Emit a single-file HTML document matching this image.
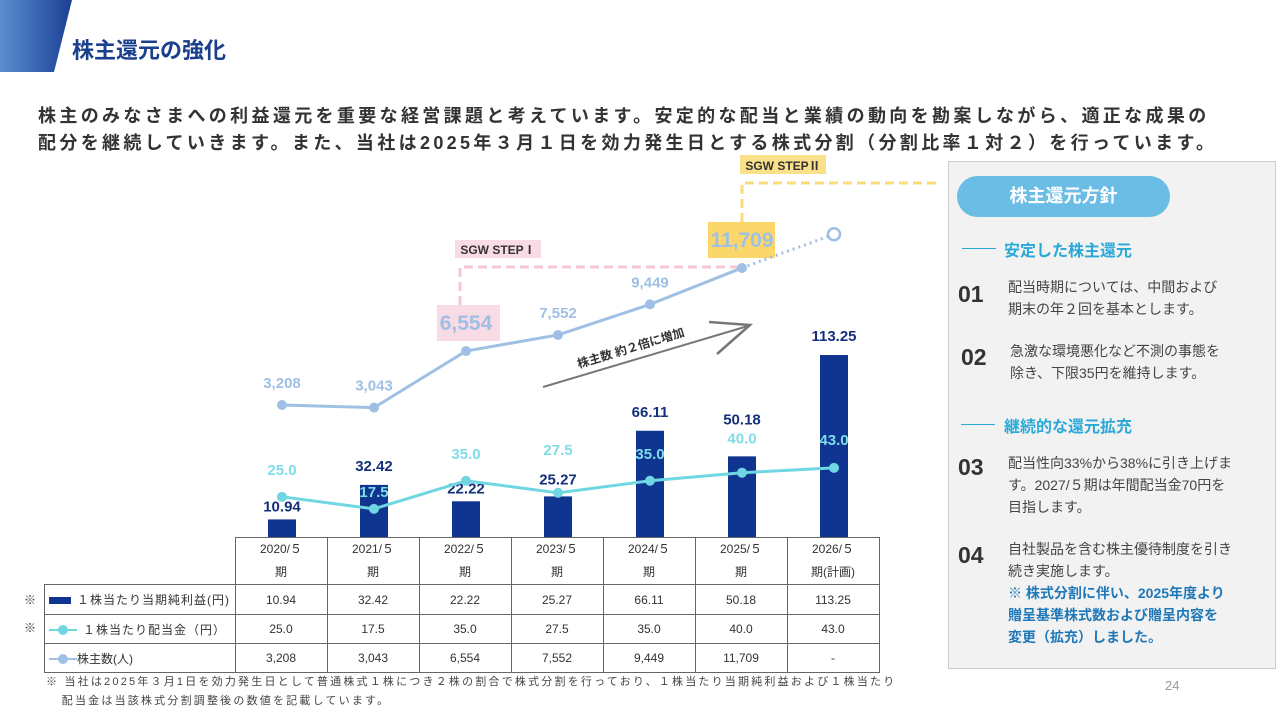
<!DOCTYPE html>
<html lang="ja"><head><meta charset="utf-8">
<style>
body{margin:0;width:1280px;height:720px;overflow:hidden;background:#fff;font-family:"Liberation Sans","Noto Sans CJK JP",sans-serif;position:relative}
.abs{position:absolute}
table.dt{position:absolute;left:44px;top:537px;border-collapse:collapse;font-size:12px;color:#333}
table.dt td{border:1px solid #666;text-align:center;padding:0;height:28px}
.panel{left:948px;top:161px;width:326px;height:506px;background:#f2f2f2;border:1px solid #ccc}
.num{font-size:23px;font-weight:bold;color:#333}
.ptxt{font-size:14px;color:#444;line-height:22px}
.head{font-size:16px;font-weight:bold;color:#2aa8d8}
.hline{width:34px;height:1px;background:#2aa8d8}
</style></head><body>
<svg class="abs" style="left:0;top:0" width="80" height="75">
<defs><linearGradient id="g" x1="0" x2="1"><stop offset="0" stop-color="#5b8fd0"/><stop offset="1" stop-color="#1b3f94"/></linearGradient></defs>
<polygon points="0,0 72,0 54,72 0,72" fill="url(#g)"/></svg>
<div class="abs" style="left:72px;top:33px;font-size:22px;font-weight:bold;color:#1a3f8c">株主還元の強化</div>
<div class="abs" style="left:38px;top:103px;font-size:18px;font-weight:bold;color:#333;line-height:27px;white-space:nowrap;letter-spacing:3.35px">株主のみなさまへの利益還元を重要な経営課題と考えています。安定的な配当と業績の動向を勘案しながら、適正な成果の<br>配分を継続していきます。また、当社は2025年３月１日を効力発生日とする株式分割（分割比率１対２）を行っています。</div>

<svg id="chart" class="abs" style="left:0;top:0" width="940" height="540"></svg>

<table class="dt">
<tr style="height:47px"><td style="border:none;border-bottom:1px solid #666;width:190px"></td>
<td style="width:91px;line-height:23px">2020/５<br>期</td><td style="width:91px;line-height:23px">2021/５<br>期</td><td style="width:91px;line-height:23px">2022/５<br>期</td><td style="width:91px;line-height:23px">2023/５<br>期</td><td style="width:91px;line-height:23px">2024/５<br>期</td><td style="width:91px;line-height:23px">2025/５<br>期</td><td style="width:91px;line-height:23px">2026/５<br>期(計画)</td></tr>
<tr style="height:30px"><td style="text-align:left;padding-left:4px;letter-spacing:1px"><span style="display:inline-block;width:22px;height:7px;background:#0f3590;margin-right:6px;vertical-align:middle"></span>１株当たり当期純利益(円)</td><td>10.94</td><td>32.42</td><td>22.22</td><td>25.27</td><td>66.11</td><td>50.18</td><td>113.25</td></tr>
<tr style="height:27px"><td style="text-align:left;padding-left:4px;letter-spacing:1px"><span style="display:inline-block;width:28px;height:2px;background:#6fd6e2;margin-right:6px;vertical-align:middle;position:relative"><span style="position:absolute;left:9px;top:-4px;width:10px;height:10px;border-radius:50%;background:#6fd6e2"></span></span>１株当たり配当金（円）</td><td>25.0</td><td>17.5</td><td>35.0</td><td>27.5</td><td>35.0</td><td>40.0</td><td>43.0</td></tr>
<tr style="height:27px"><td style="text-align:left;padding-left:4px"><span style="display:inline-block;width:28px;height:2px;background:#9fc0e4;vertical-align:middle;position:relative"><span style="position:absolute;left:9px;top:-4px;width:10px;height:10px;border-radius:50%;background:#9fc0e4"></span></span>株主数(人)</td><td>3,208</td><td>3,043</td><td>6,554</td><td>7,552</td><td>9,449</td><td>11,709</td><td>-</td></tr>
</table>
<div class="abs" style="left:24px;top:591px;font-size:12px;color:#444">※</div>
<div class="abs" style="left:24px;top:619px;font-size:12px;color:#444">※</div>
<div class="abs" style="left:46px;top:673px;font-size:11px;color:#444;line-height:19px;white-space:nowrap;letter-spacing:2.2px">※ 当社は2025年３月1日を効力発生日として普通株式１株につき２株の割合で株式分割を行っており、１株当たり当期純利益および１株当たり<br>&nbsp;&nbsp;&nbsp;配当金は当該株式分割調整後の数値を記載しています。</div>
<div class="abs" style="left:1165px;top:678px;font-size:13px;color:#999">24</div>

<div class="abs panel"></div>
<div class="abs" style="left:957px;top:176px;width:213px;height:41px;border-radius:21px;background:#6cbde6;color:#fff;font-size:18px;font-weight:bold;text-align:center;line-height:41px">株主還元方針</div>
<div class="abs hline" style="left:962px;top:248px"></div>
<div class="abs head" style="left:1004px;top:237px">安定した株主還元</div>
<div class="abs num" style="left:958px;top:281px">01</div>
<div class="abs ptxt" style="left:1008px;top:276px">配当時期については、中間および<br>期末の年２回を基本とします。</div>
<div class="abs num" style="left:961px;top:344px">02</div>
<div class="abs ptxt" style="left:1010px;top:340px">急激な環境悪化など不測の事態を<br>除き、下限35円を維持します。</div>
<div class="abs hline" style="left:961px;top:424px"></div>
<div class="abs head" style="left:1004px;top:413px">継続的な還元拡充</div>
<div class="abs num" style="left:958px;top:454px">03</div>
<div class="abs ptxt" style="left:1008px;top:452px">配当性向33%から38%に引き上げま<br>す。2027/５期は年間配当金70円を<br>目指します。</div>
<div class="abs num" style="left:958px;top:542px">04</div>
<div class="abs ptxt" style="left:1008px;top:538px">自社製品を含む株主優待制度を引き<br>続き実施します。<br><b style="color:#1f78b8">※ 株式分割に伴い、2025年度より<br>贈呈基準株式数および贈呈内容を<br>変更（拡充）しました。</b></div>

<script>
const categories=["2020/5","2021/5","2022/5","2023/5","2024/5","2025/5","2026/5"];
const eps=[10.94,32.42,22.22,25.27,66.11,50.18,113.25];
const dividend=[25.0,17.5,35.0,27.5,35.0,40.0,43.0];
const shareholders=[3208,3043,6554,7552,9449,11709];
const shareholderForecast=13800;
const epsLabelOffset=[-8,-14,-8,-12,-14,-32,-14];
const dividendLabelOffset=[-22,-12,-22,-38,-22,-29,-23];
const NS="http://www.w3.org/2000/svg";
const svg=document.getElementById('chart');
const x=i=>282+i*92;
const yBar=v=>537-1.607*v;
const ySh=v=>456.7-0.01612*v;
function mk(t,a,p){const e=document.createElementNS(NS,t);for(const k in a)e.setAttribute(k,a[k]);(p||svg).appendChild(e);return e;}
function txt(s,xx,yy,a){const e=mk('text',Object.assign({x:xx,y:yy,'text-anchor':'middle','font-family':'Liberation Sans, Noto Sans CJK JP, sans-serif'},a));e.textContent=s;return e;}
mk('rect',{x:455,y:240,width:86,height:18,fill:'#f8dbe5'});
txt('SGW STEPⅠ',498,254,{'font-size':12,'font-weight':'bold',fill:'#333'});
mk('polyline',{points:`460,305 460,267 ${x(5)},267`,fill:'none',stroke:'#f5c6d3','stroke-width':3,'stroke-dasharray':'9,5'});
mk('rect',{x:437,y:305,width:63,height:36,fill:'#f8dbe5'});
mk('rect',{x:740,y:155,width:86,height:19,fill:'#fbe08a'});
txt('SGW STEPⅡ',783,170,{'font-size':12,'font-weight':'bold',fill:'#333'});
mk('polyline',{points:`${x(5)},222 ${x(5)},183 1280,183`,fill:'none',stroke:'#fbdc7a','stroke-width':3,'stroke-dasharray':'9,5'});
mk('rect',{x:708,y:222,width:67,height:36,fill:'#fbd66a'});
mk('line',{x1:543,y1:387,x2:748,y2:326,stroke:'#777','stroke-width':2});
mk('polyline',{points:'709,322 750,325 717,354',fill:'none',stroke:'#777','stroke-width':2.5});
txt('株主数 約２倍に増加',632,352,{'font-size':12,'font-weight':'bold',fill:'#333',transform:'rotate(-17 632 352)'});
eps.forEach((v,i)=>{
 const b=mk('rect',{x:x(i)-14,y:yBar(v),width:28,height:537-yBar(v),fill:'#0f3590'});
 
 
 txt(v.toFixed(2),x(i),yBar(v)+epsLabelOffset[i],{'font-size':15,'font-weight':'bold',fill:'#14307a'});
});
mk('polyline',{points:dividend.map((v,i)=>x(i)+','+yBar(v)).join(' '),fill:'none',stroke:'#6fd6e2','stroke-width':3});
dividend.forEach((v,i)=>{
 const c=mk('circle',{cx:x(i),cy:yBar(v),r:5,fill:'#6fd6e2'});
 
 
 txt(v.toFixed(1),x(i),yBar(v)+dividendLabelOffset[i],{'font-size':15,'font-weight':'bold',fill:'#7fdde8'});
});
mk('polyline',{points:shareholders.map((v,i)=>x(i)+','+ySh(v)).join(' '),fill:'none',stroke:'#9fc0e4','stroke-width':3});
mk('line',{x1:x(5),y1:ySh(shareholders[5]),x2:x(6),y2:ySh(shareholderForecast),stroke:'#9fc0e4','stroke-width':3,'stroke-dasharray':'2,4'});
const fc=mk('circle',{cx:x(6),cy:ySh(shareholderForecast),r:6,fill:'#fff',stroke:'#9fc0e4','stroke-width':2.5});


shareholders.forEach((v,i)=>{
 const c=mk('circle',{cx:x(i),cy:ySh(v),r:5,fill:'#9fc0e4'});
 
 
 const big=(i==2||i==5);
 txt(v.toLocaleString('en-US'),x(i),ySh(v)-(big?21:17),{'font-size':big?21:15,'font-weight':'bold',fill:'#9fc0e4'});
});
</script>
</body></html>
